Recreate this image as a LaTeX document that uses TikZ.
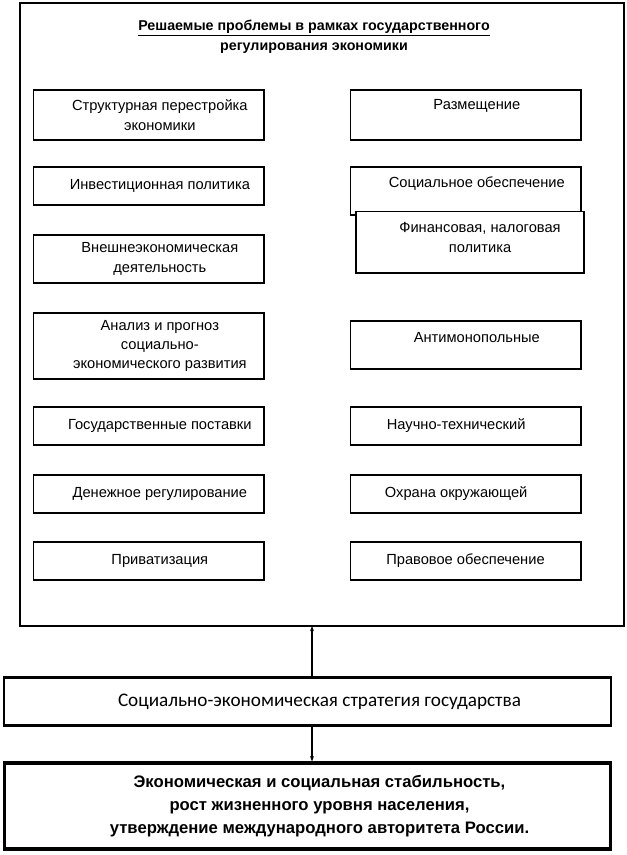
\documentclass[tikz,border=0pt]{standalone}
\usepackage{fontspec}
\setmainfont{Liberation Sans}
\newfontfamily\stratfont{Carlito}
\usetikzlibrary{arrows.meta}
\tikzset{
  probbox/.style={draw, line width=1pt, fill=white, minimum width=173pt},
  probtext/.style={align=center, xshift=8.5pt, font=\fontsize{11}{14.6}\selectfont},
  widebox/.style={draw, minimum width=455pt, fill=white},
  widetext/.style={align=center, xshift=9pt}
}
\begin{document}
\begin{tikzpicture}[x=0.75pt, y=-0.75pt, >={Stealth[length=4pt,width=3pt]}]
\useasboundingbox (0,0) rectangle (627,855);
\draw[line width=1.3pt] (20,3) rectangle (624,626);
\node[font=\bfseries\fontsize{10.7}{15}\selectfont, align=center] (title) at (314,37)
  {\underline{Решаемые проблемы в рамках государственного}\\регулирования экономики};

\node[probbox, minimum height=37.5pt, label={[probtext]center:Структурная перестройка\\экономики}] (p1) at (148.5,115) {};
\node[probbox, minimum height=28.5pt, label={[probtext]center:Инвестиционная политика}] (p2) at (148.5,186) {};
\node[probbox, minimum height=36pt, label={[probtext]center:Внешнеэкономическая\\деятельность}] (p3) at (148.5,259) {};
\node[probbox, minimum height=49.5pt, label={[probtext]center:Анализ и прогноз\\социально-\\экономического развития}] (p4) at (148.5,346) {};
\node[probbox, minimum height=28.5pt, label={[probtext]center:Государственные поставки}] (p5) at (148.5,426) {};
\node[probbox, minimum height=28.5pt, label={[probtext]center:Денежное регулирование}] (p6) at (148.5,494) {};
\node[probbox, minimum height=28.5pt, label={[probtext]center:Приватизация}] (p7) at (148.5,561) {};

\node[probbox, minimum height=37.5pt, label={[probtext, yshift=6.75pt]center:Размещение}] (q1) at (465.5,115) {};
\node[probbox, minimum height=36pt, label={[probtext, yshift=5.25pt]center:Социальное обеспечение}] (q2) at (465.5,191) {};
\node[probbox, minimum width=171pt, minimum height=46pt, label={[probtext, xshift=-1pt, yshift=3.75pt]center:Финансовая, налоговая\\политика}] (q3) at (470,242.5) {};
\node[probbox, minimum height=36pt, label={[probtext, yshift=5.25pt]center:Антимонопольные}] (q4) at (465.5,345) {};
\node[probbox, minimum height=28.5pt, label={[probtext, xshift=-15.5pt]center:Научно-технический}] (q5) at (465.5,426) {};
\node[probbox, minimum height=28.5pt, label={[probtext, xshift=-15.5pt]center:Охрана окружающей}] (q6) at (465.5,494) {};
\node[probbox, minimum height=28.5pt, label={[probtext, xshift=-8.5pt]center:Правовое обеспечение}] (q7) at (465.5,561) {};

\node[widebox, line width=1.6pt, minimum height=36pt,
  label={[widetext, font=\stratfont\fontsize{14.4}{15}\selectfont]center:Социально-экономическая стратегия государства}]
  (strat) at (307.5,701.5) {};
\node[widebox, line width=2.4pt, minimum height=64.5pt,
  label={[widetext, font=\bfseries\fontsize{12.5}{17}\selectfont]center:Экономическая и социальная стабильность,\\рост жизненного уровня населения,\\утверждение международного авторитета России.}]
  (goal) at (307.5,806) {};

\coordinate (frame) at (312,626);
\draw[->, line width=0.9pt] (strat.north -| frame) -- (frame);
\draw[->, line width=0.9pt] (strat.south -| frame) -- (goal.north -| frame);
\end{tikzpicture}
\end{document}
